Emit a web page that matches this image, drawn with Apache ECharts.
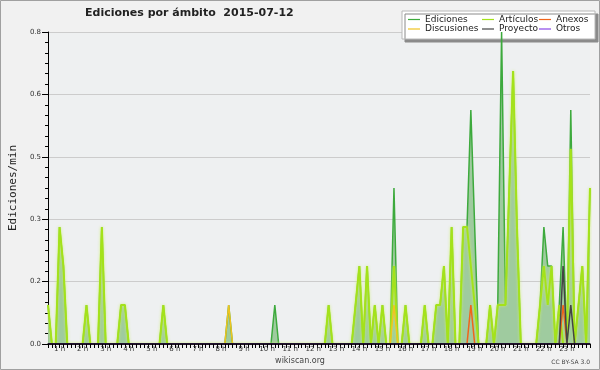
<!DOCTYPE html>
<html>
<head>
<meta charset="utf-8">
<script src="https://cdn.jsdelivr.net/npm/echarts@6/dist/echarts.min.js"></script>
<style>html,body{margin:0;padding:0;background:#f1f1f1}#c{width:600px;height:370px}</style>
</head>
<body>
<div id="c"></div>
<script>
// 10-minute slots shown on the x axis (142 points)
const slots = [];
for (let i = 0; i < 142; i++) {
  const m = i * 10;
  slots.push(String(Math.floor(m / 60)).padStart(2, '0') + ':' + String(m % 60).padStart(2, '0'));
}
const hourLabels = ['1 h','2 h','3 h','4 h','5 h','6 h','7 h','8 h','9 h','10 h','11 h','12 h',
  '13 h','14 h','15 h','16 h','17 h','18 h','19 h','20 h','21 h','22 h','23 h'];
const yTicks = [0, 0.16, 0.32, 0.48, 0.64, 0.8];

const ediciones = [
  0.1,0,0,0.3,0.2,0,0,0,0,0,0.1,0,
  0,0,0.3,0,0,0,0,0.1,0.1,0,0,0,
  0,0,0,0,0,0,0.1,0,0,0,0,0,
  0,0,0,0,0,0,0,0,0,0,0,0.1,
  0,0,0,0,0,0,0,0,0,0,0,0.1,
  0,0,0,0,0,0,0,0,0,0,0,0,
  0,0.1,0,0,0,0,0,0,0.1,0.2,0,0.2,
  0,0.1,0,0.1,0,0,0.4,0,0,0.1,0,0,
  0,0,0.1,0,0,0.1,0.1,0.2,0,0.3,0,0,
  0.3,0.3,0.6,0.3,0,0,0,0.1,0,0.1,0.8,0.1,
  0.4,0.7,0.3,0,0,0,0,0,0.1,0.3,0.2,0.2,
  0,0.1,0.3,0,0.6,0,0.1,0.2,0,0.4
];
const articulos = [
  0.1,0,0,0.3,0.2,0,0,0,0,0,0.1,0,
  0,0,0.3,0,0,0,0,0.1,0.1,0,0,0,
  0,0,0,0,0,0,0.1,0,0,0,0,0,
  0,0,0,0,0,0,0,0,0,0,0,0,
  0,0,0,0,0,0,0,0,0,0,0,0,
  0,0,0,0,0,0,0,0,0,0,0,0,
  0,0.1,0,0,0,0,0,0,0.1,0.2,0,0.2,
  0,0.1,0,0.1,0,0,0.2,0,0,0.1,0,0,
  0,0,0.1,0,0,0.1,0.1,0.2,0,0.3,0,0,
  0.3,0.3,0.2,0.1,0,0,0,0.1,0,0.1,0.1,0.1,
  0.4,0.7,0.3,0,0,0,0,0,0.1,0.2,0.1,0.2,
  0,0.1,0,0,0.5,0,0.1,0.2,0,0.4
];
const discusiones = [
  0,0,0,0,0,0,0,0,0,0,0,0,
  0,0,0,0,0,0,0,0,0,0,0,0,
  0,0,0,0,0,0,0,0,0,0,0,0,
  0,0,0,0,0,0,0,0,0,0,0,0.1,
  0,0,0,0,0,0,0,0,0,0,0,0,
  0,0,0,0,0,0,0,0,0,0,0,0,
  0,0,0,0,0,0,0,0,0,0,0,0,
  0,0,0,0,0,0,0.1,0,0,0,0,0,
  0,0,0,0,0,0,0,0,0,0,0,0,
  0,0,0,0,0,0,0,0,0,0,0,0,
  0,0,0,0,0,0,0,0,0,0,0,0,
  0,0,0,0,0,0,0,0,0,0
];
const anexos = [
  0,0,0,0,0,0,0,0,0,0,0,0,
  0,0,0,0,0,0,0,0,0,0,0,0,
  0,0,0,0,0,0,0,0,0,0,0,0,
  0,0,0,0,0,0,0,0,0,0,0,0,
  0,0,0,0,0,0,0,0,0,0,0,0,
  0,0,0,0,0,0,0,0,0,0,0,0,
  0,0,0,0,0,0,0,0,0,0,0,0,
  0,0,0,0,0,0,0,0,0,0,0,0,
  0,0,0,0,0,0,0,0,0,0,0,0,
  0,0,0.1,0,0,0,0,0,0,0,0,0,
  0,0,0,0,0,0,0,0,0,0,0,0,
  0,0,0.1,0,0,0,0,0,0,0
];
const proyecto = [
  0,0,0,0,0,0,0,0,0,0,0,0,
  0,0,0,0,0,0,0,0,0,0,0,0,
  0,0,0,0,0,0,0,0,0,0,0,0,
  0,0,0,0,0,0,0,0,0,0,0,0,
  0,0,0,0,0,0,0,0,0,0,0,0,
  0,0,0,0,0,0,0,0,0,0,0,0,
  0,0,0,0,0,0,0,0,0,0,0,0,
  0,0,0,0,0,0,0,0,0,0,0,0,
  0,0,0,0,0,0,0,0,0,0,0,0,
  0,0,0,0,0,0,0,0,0,0,0,0,
  0,0,0,0,0,0,0,0,0,0,0,0,
  0,0,0.2,0,0.1,0,0,0,0,0
];
const otros = [
  0,0,0,0,0,0,0,0,0,0,0,0,
  0,0,0,0,0,0,0,0,0,0,0,0,
  0,0,0,0,0,0,0,0,0,0,0,0,
  0,0,0,0,0,0,0,0,0,0,0,0,
  0,0,0,0,0,0,0,0,0,0,0,0,
  0,0,0,0,0,0,0,0,0,0,0,0,
  0,0,0,0,0,0,0,0,0,0,0,0,
  0,0,0,0,0,0,0,0,0,0,0,0,
  0,0,0,0,0,0,0,0,0,0,0,0,
  0,0,0,0,0,0,0,0,0,0,0,0,
  0,0,0,0,0,0,0,0,0,0,0,0,
  0,0,0,0,0,0,0,0,0,0
];

const chart = echarts.init(document.getElementById('c'), null, {renderer: 'canvas'});
const F = 'DejaVu Sans';
const legendCommon = {
  orient: 'vertical', top: 15, padding: 0, itemGap: 0.5, itemWidth: 12, itemHeight: 1.2,
  icon: 'rect', selectedMode: false,
  textStyle: {fontFamily: F, fontSize: 9, lineHeight: 9, color: '#222'}
};
function lineSeries(name, data, color, width, extra) {
  return Object.assign({
    name: name, type: 'line', data: data, symbol: 'none', showSymbol: false,
    lineStyle: {color: color, width: width}, itemStyle: {color: color}
  }, extra || {});
}
chart.setOption({
  backgroundColor: '#f1f1f1',
  animation: false,
  title: {
    text: 'Ediciones por ámbito  2015-07-12', left: 85, top: 8, padding: 0,
    textStyle: {fontFamily: F, fontWeight: 'bold', fontSize: 11, color: '#222'}
  },
  legend: [
    Object.assign({left: 408, data: ['Ediciones', 'Discusiones']}, legendCommon),
    Object.assign({left: 482, data: ['Artículos', 'Proyecto']}, legendCommon),
    Object.assign({left: 539, data: ['Anexos', 'Otros']}, legendCommon)
  ],
  grid: {left: 47, right: 10, top: 32, bottom: 26, show: true, backgroundColor: '#eef0f1', borderWidth: 0},
  xAxis: {
    type: 'category', data: slots, boundaryGap: false, z: 10,
    axisLine: {lineStyle: {color: '#000', width: 1.5}},
    axisTick: {interval: 0, length: 4, lineStyle: {color: '#000'}},
    axisLabel: {
      interval: function (i) { return (i + 3) % 6 === 0; },
      formatter: function (v, i) { return hourLabels[(i + 3) / 6 - 1]; },
      margin: 2, fontFamily: F, fontSize: 7, color: '#333'
    },
    splitLine: {show: false}
  },
  yAxis: {
    type: 'value', min: yTicks[0], max: yTicks[yTicks.length - 1], interval: yTicks[1],
    name: 'Ediciones/min', nameLocation: 'middle', nameGap: 27,
    nameTextStyle: {fontFamily: 'DejaVu Sans Mono', fontSize: 11, color: '#222'},
    axisLine: {show: true, lineStyle: {color: '#000'}},
    axisTick: {show: true, length: 6, lineStyle: {color: '#000'}},
    minorTick: {show: true, splitNumber: 6, length: 3, lineStyle: {color: '#000'}},
    axisLabel: {formatter: function (v) { return v.toFixed(1); }, margin: 7, fontFamily: F, fontSize: 7, color: '#333'},
    splitLine: {lineStyle: {color: '#cccccc'}}
  },
  series: [
    lineSeries('Ediciones', ediciones, '#3daa3d', 1.5, {areaStyle: {color: '#9fcb9f', opacity: 1}}),
    lineSeries('Artículos', articulos, '#a4e21a', 2, {lineStyle: {color: '#a4e21a', width: 2, shadowColor: 'rgba(205,240,110,0.9)', shadowBlur: 3}}),
    lineSeries('Discusiones', discusiones, '#f0c420', 1.5),
    lineSeries('Anexos', anexos, '#f0641a', 1.5),
    lineSeries('Proyecto', proyecto, '#444444', 1.5),
    lineSeries('Otros', otros, '#8a46e8', 1.5)
  ],
  graphic: [
    {type: 'rect', z: 3, shape: {x: 402, y: 11, width: 193, height: 28},
     style: {fill: '#ffffff', stroke: '#b8b8b8', lineWidth: 1, shadowColor: '#8a8a8a', shadowOffsetX: 3, shadowOffsetY: 3, shadowBlur: 0}},
    {type: 'text', z: 5, style: {text: 'wikiscan.org', x: 300, y: 361, align: 'center', verticalAlign: 'middle', font: '8px "DejaVu Sans"', fill: '#444'}},
    {type: 'text', z: 5, style: {text: 'CC BY-SA 3.0', x: 590, y: 362, align: 'right', verticalAlign: 'middle', font: '6px "DejaVu Sans"', fill: '#444'}},
    {type: 'rect', z: 100, shape: {x: 0.5, y: 0.5, width: 599, height: 369}, style: {fill: 'none', stroke: '#a0a0a0', lineWidth: 1}}
  ]
});
</script>
</body>
</html>
